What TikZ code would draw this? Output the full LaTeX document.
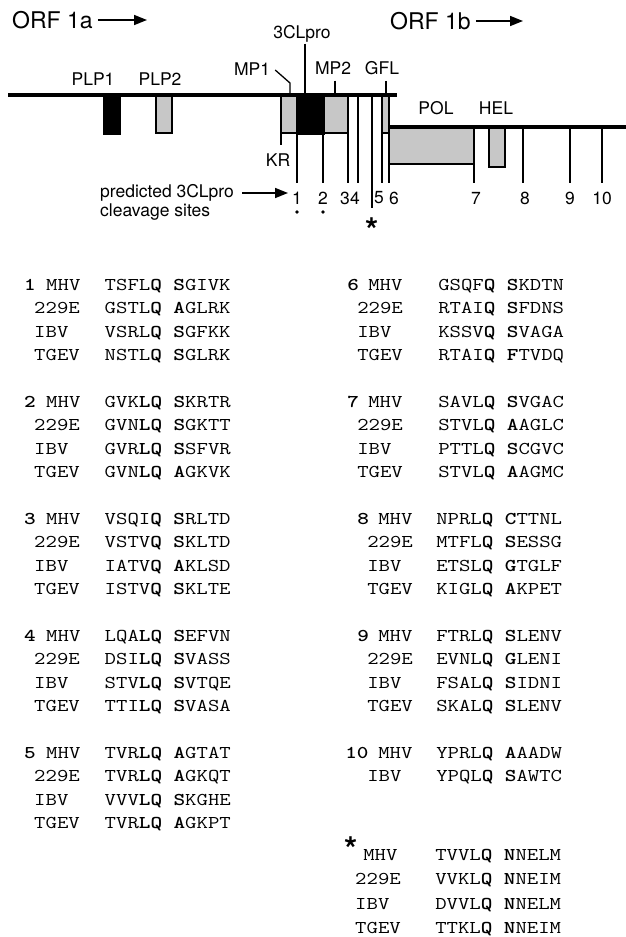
\documentclass[tikz,border=0pt]{standalone}
\usepackage{fontspec}
\setsansfont{TeX Gyre Heros}
\usetikzlibrary{arrows.meta}

\newcommand{\res}[1]{\textbf{#1}}

\begin{document}
\begin{tikzpicture}[x=1pt, y=-1pt,
  lbl/.style={font=\sffamily\fontsize{17.5}{19}\selectfont, inner sep=0pt},
  orflbl/.style={font=\sffamily\fontsize{23}{25}\selectfont, inner sep=0pt, anchor=west},
  gene/.style={line width=3.6pt},
  site/.style={line width=1.3pt},
  dombox/.style={draw, line width=1.8pt, fill=black!22},
  solidbox/.style={draw, line width=1.8pt, fill=black},
  pointer/.style={line width=1.6pt, -{Triangle[length=13pt, width=10pt]}},
  seqtxt/.style={font=\ttfamily\fontsize{18}{18}\selectfont, inner sep=0pt, anchor=base west, xscale=1.23},
  seqnum/.style={seqtxt, font=\ttfamily\bfseries\fontsize{18}{18}\selectfont},
  astlbl/.style={font=\sffamily\bfseries\fontsize{34}{34}\selectfont, inner sep=0pt, anchor=north}]
  \useasboundingbox (0,0) rectangle (626,937);
  % ORF headers
  \node[orflbl] (orfa) at (12,20) {ORF 1a};
  \node[orflbl] (orfb) at (390,21) {ORF 1b};
  \coordinate (orfatip) at (147,20);
  \coordinate (orfbtip) at (523,21);
  \draw[pointer] ([xshift=5pt]orfa.east) -- (orfatip);
  \draw[pointer] ([xshift=5pt]orfb.east) -- (orfbtip);

  % domains
  \draw[solidbox] (104,95) rectangle (120,134);  % PLP1
  \draw[dombox] (156,95) rectangle (172,133);    % PLP2
  \draw[dombox] (281,95) rectangle (297,133);    % MP1
  \draw[solidbox] (297,95) rectangle (324,134);  % 3CLpro
  \draw[dombox] (324,95) rectangle (348,133);    % MP2
  \draw[dombox] (382,95) rectangle (389,133);    % GFL
  \draw[dombox] (389,127) rectangle (474,164);   % POL
  \draw[dombox] (489,127) rectangle (505,167);   % HEL
  % genome
  \draw[gene] (8,95) -- (397,95);
  \draw[gene] (389,127) -- (626,127);

  % domain labels
  \node[lbl] (plpa) at (93,79) {PLP1};
  \node[lbl] (plpb) at (160,79) {PLP2};
  \node[lbl] (mpa) at (252,69) {MP1};
  \node[lbl] (clpro) at (302,34) {3CLpro};
  \node[lbl] (mpb) at (333,68) {MP2};
  \node[lbl] (gfl) at (382,68) {GFL};
  \node[lbl] (pol) at (436,108) {POL};
  \node[lbl] (hel) at (496,108) {HEL};
  \node[lbl] (kr) at (278,160) {KR};
  \coordinate (mpabend) at (290,83);
  \coordinate (mpatop) at (290,95);
  \coordinate (cltop) at (305,95);
  \coordinate (mpbtop) at (335,95);
  \coordinate (gfltop) at (386,95);
  \draw[site] ([xshift=5pt,yshift=-1pt]mpa.east) -- (mpabend) -- (mpatop);
  \draw[site] ([xshift=3pt,yshift=-1pt]clpro.south) -- (cltop);
  \draw[site] ([xshift=2pt,yshift=-6pt]mpb.south) -- (mpbtop);
  \draw[site] ([xshift=4pt,yshift=-6pt]gfl.south) -- (gfltop);

  % cleavage sites
  \foreach \x/\ya/\yb in {281/133/145, 297/134/183, 323/134/183, 348/133/183, 358/95/183,
    372/95/208, 382/133/183, 389/95/183, 474/164/183, 523/127/183, 570/127/183, 602/127/183}
    \draw[site] (\x,\ya) -- (\x,\yb);
  \foreach \x/\t in {297/1, 323/2, 345/3, 355/4, 379/5, 394/6, 476/7, 525/8, 570/9, 602/10}
    \node[lbl] (site\t) at (\x,198) {\t};
  \fill (297,212) circle (1.9pt);
  \fill (323,212) circle (1.9pt);
  \node[astlbl] (ast) at (372.5,217.5) {*};

  \node[lbl, align=left, anchor=north west] (pred) at (100,184) {predicted 3CLpro\\cleavage sites};
  \coordinate (predtip) at (288,193);
  \draw[pointer] ([xshift=8pt,yshift=-9pt]pred.north east) -- (predtip);

  % alignments, left column
  \foreach \b/\num in {0/1, 1/2, 2/3, 3/4, 4/5}{
    \pgfmathsetmacro{\y}{290+117*\b}
    \node[seqnum] (numl\num) at (24,\y) {\num};
  }
  \foreach \b/\r/\nm/\sq [count=\i] in {
    0/0/MHV/TSFL\res{Q} \res{S}GIVK, 0/1/229E/GSTL\res{Q} \res{A}GLRK,
    0/2/IBV/VSRL\res{Q} \res{S}GFKK, 0/3/TGEV/NSTL\res{Q} \res{S}GLRK,
    1/0/MHV/GVK\res{LQ} \res{S}KRTR, 1/1/229E/GVN\res{LQ} \res{S}GKTT,
    1/2/IBV/GVR\res{LQ} \res{S}SFVR, 1/3/TGEV/GVN\res{LQ} \res{A}GKVK,
    2/0/MHV/VSQI\res{Q} \res{S}RLTD, 2/1/229E/VSTV\res{Q} \res{S}KLTD,
    2/2/IBV/IATV\res{Q} \res{A}KLSD, 2/3/TGEV/ISTV\res{Q} \res{S}KLTE,
    3/0/MHV/LQA\res{LQ} \res{S}EFVN, 3/1/229E/DSI\res{LQ} \res{S}VASS,
    3/2/IBV/STV\res{LQ} \res{S}VTQE, 3/3/TGEV/TTI\res{LQ} \res{S}VASA,
    4/0/MHV/TVR\res{LQ} \res{A}GTAT, 4/1/229E/TVR\res{LQ} \res{A}GKQT,
    4/2/IBV/VVV\res{LQ} \res{S}KGHE, 4/3/TGEV/TVR\res{LQ} \res{A}GKPT}{
    \pgfmathsetmacro{\y}{290+117*\b+23.5*\r}
    \pgfmathsetmacro{\nx}{\r==0 ? 46 : 34}
    \node[seqtxt] (namel\i) at (\nx,\y) {\nm};
    \node[seqtxt] (seql\i) at (104.5,\y) {\sq};
  }

  % alignments, right column
  \foreach \b/\num/\x in {0/6/347, 1/7/347, 2/8/357, 3/9/357, 4/10/345}{
    \pgfmathsetmacro{\y}{290+117*\b}
    \node[seqnum] (numr\num) at (\x,\y) {\num};
  }
  \foreach \b/\r/\nm/\sq [count=\i] in {
    0/0/MHV/GSQF\res{Q} \res{S}KDTN, 0/1/229E/RTAI\res{Q} \res{S}FDNS,
    0/2/IBV/KSSV\res{Q} \res{S}VAGA, 0/3/TGEV/RTAI\res{Q} \res{F}TVDQ,
    1/0/MHV/SAVL\res{Q} \res{S}VGAC, 1/1/229E/STVL\res{Q} \res{A}AGLC,
    1/2/IBV/PTTL\res{Q} \res{S}CGVC, 1/3/TGEV/STVL\res{Q} \res{A}AGMC,
    2/0/MHV/NPRL\res{Q} \res{C}TTNL, 2/1/229E/MTFL\res{Q} \res{S}ESSG,
    2/2/IBV/ETSL\res{Q} \res{G}TGLF, 2/3/TGEV/KIGL\res{Q} \res{A}KPET,
    3/0/MHV/FTRL\res{Q} \res{S}LENV, 3/1/229E/EVNL\res{Q} \res{G}LENI,
    3/2/IBV/FSAL\res{Q} \res{S}IDNI, 3/3/TGEV/SKAL\res{Q} \res{S}LENV,
    4/0/MHV/YPRL\res{Q} \res{A}AADW, 4/1/IBV/YPQL\res{Q} \res{S}AWTC}{
    \pgfmathsetmacro{\y}{290+117*\b+23.5*\r}
    \pgfmathsetmacro{\nx}{(\b<2 ? 357 : 367)+(\r==0 ? 11 : 0)}
    \pgfmathsetmacro{\sx}{\b<2 ? 438 : 436}
    \node[seqtxt] (namer\i) at (\nx,\y) {\nm};
    \node[seqtxt] (seqr\i) at (\sx,\y) {\sq};
  }

  % site marked by the asterisk
  \node[astlbl] (astb) at (351,836.5) {*};
  \foreach \y/\nx/\nm/\sq [count=\i] in {
    860/363/MHV/TVVL\res{Q} \res{N}NELM, 884.5/355/229E/VVKL\res{Q} \res{N}NEIM,
    909/355/IBV/DVVL\res{Q} \res{N}NELM, 933/355/TGEV/TTKL\res{Q} \res{N}NEIM}{
    \node[seqtxt] (namea\i) at (\nx,\y) {\nm};
    \node[seqtxt] (seqa\i) at (435,\y) {\sq};
  }
\end{tikzpicture}
\end{document}
